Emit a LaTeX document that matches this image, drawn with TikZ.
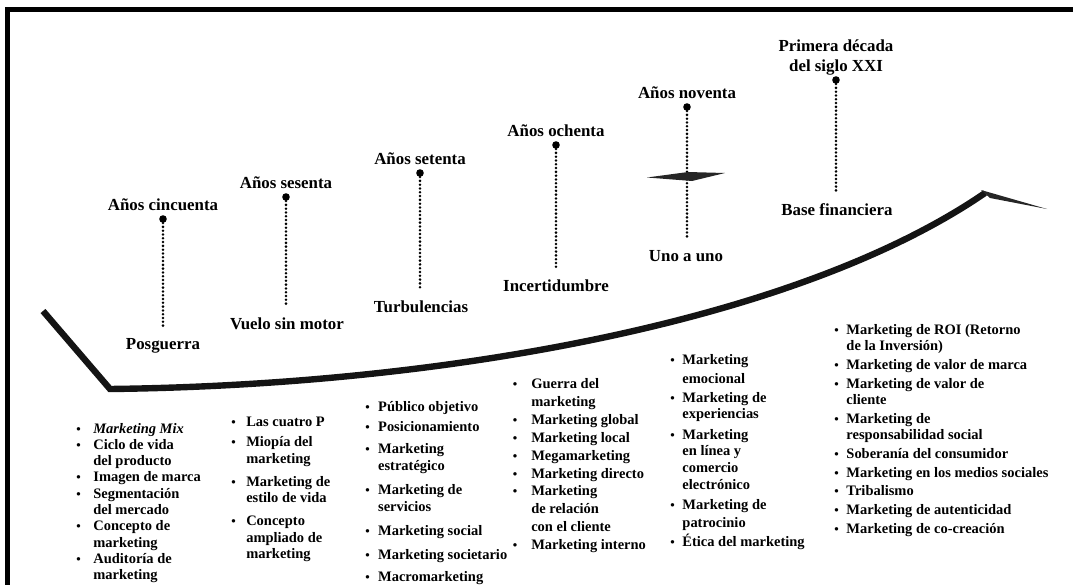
\documentclass[tikz,border=0pt]{standalone}
\usepackage{fontspec}
\setmainfont{Liberation Serif}
\usetikzlibrary{positioning}
\newcommand{\blt}{{\small\textbullet}}

\begin{document}
\begin{tikzpicture}[
  x=0.025cm, y=-0.025cm,
  font=\bfseries,
  era/.style={font=\fontsize{12}{14}\selectfont\bfseries, inner sep=0pt,
              align=center, text depth=0pt},
  phase/.style={font=\fontsize{12}{14}\selectfont\bfseries, inner sep=0pt,
                anchor=base},
  milestone/.style={circle, fill=black, inner sep=0pt, minimum size=0.19cm},
  dotline/.style={line width=2pt, line cap=round,
                  dash pattern=on 0pt off 2.7pt, shorten >=7pt},
  itemlist/.style={font=\fontsize{10.3}{11.6}\selectfont\bfseries,
                   inner sep=0pt, anchor=base west},
  swoosh/.style={draw=black!92, line width=0.16cm, line join=miter},
  frameline/.style={line width=0.125cm, line join=miter}
]
\useasboundingbox (0,0) rectangle (1073,585);

% ---------------- Frame ----------------
\draw[frameline] (7.5,585) -- (7.5,9.5) -- (1073,9.5);

% ---------------- Curve ----------------
\coordinate (sw0) at (43,311);
\coordinate (sw1) at (110,389);
\coordinate (sw2) at (985,193);
\coordinate (sw3) at (1047,209);
\draw[swoosh] (sw0) -- (sw1) .. controls (450,385) and (800,320) .. (sw2);
\fill[black!85] (981,190) -- (sw3) -- (990,198) -- cycle;

% ---------------- Milestones ----------------
\node[milestone] (d50) at (163,219) {};
\node[milestone] (d60) at (286,197) {};
\node[milestone] (d70) at (420,173) {};
\node[milestone] (d80) at (556,145) {};
\node[milestone] (d90) at (687,107) {};
\node[milestone] (d00) at (836,80)  {};

\node[era, above=3pt of d50] (e50) {Años cincuenta};
\node[era, above=3pt of d60] (e60) {Años sesenta};
\node[era, above=3pt of d70] (e70) {Años setenta};
\node[era, above=3pt of d80] (e80) {Años ochenta};
\node[era, above=3pt of d90] (e90) {Años noventa};
\node[era, above=3pt of d00] (e00) {Primera década\\del siglo XXI};

\node[phase] (p50) at (163,349) {Posguerra};
\node[phase] (p60) at (287,329) {Vuelo sin motor};
\node[phase] (p70) at (421,312) {Turbulencias};
\node[phase] (p80) at (556,291) {Incertidumbre};
\node[phase] (p90) at (686,261) {Uno a uno};
\node[phase] (p00) at (837,215) {Base financiera};

\draw[dotline] (d50.south) -- (d50.south |- p50.north);
\draw[dotline] (d60.south) -- (d60.south |- p60.north);
\draw[dotline] (d70.south) -- (d70.south |- p70.north);
\draw[dotline] (d80.south) -- (d80.south |- p80.north);
\draw[dotline] (d90.south) -- (d90.south |- p90.north);
\draw[dotline] (d00.south) -- (d00.south |- p00.north);

% crossing mark on the nineties line
\fill[black!85] (647,177.5) -- (688,172) -- (725,173) -- (692,181) -- cycle;

% ---------------- Lists ----------------
\node[itemlist] (l50) at (76,433) {\begin{tabular}[t]{@{}l@{\hspace{9pt}}l@{}}
  \blt & \textit{Marketing Mix}\\
  \blt & Ciclo de vida\\
       & del producto\\
  \blt & Imagen de marca\\
  \blt & Segmentación\\
       & del mercado\\
  \blt & Concepto de\\
       & marketing\\
  \blt & Auditoría de\\
       & marketing
\end{tabular}};

\node[itemlist] (l60) at (231,426) {\begin{tabular}[t]{@{}l@{\hspace{7.5pt}}l@{}}
  \blt & Las cuatro P\\[3.3pt]
  \blt & Miopía del\\
       & marketing\\[4.8pt]
  \blt & Marketing de\\
       & estilo de vida\\[4.8pt]
  \blt & Concepto\\
       & ampliado de\\
       & marketing
\end{tabular}};

\node[itemlist] (l70) at (365,411) {\begin{tabular}[t]{@{}l@{\hspace{6pt}}l@{}}
  \blt & Público objetivo\\[3.3pt]
  \blt & Posicionamiento\\[4pt]
  \blt & Marketing\\
       & estratégico\\[6pt]
  \blt & Marketing de\\
       & servicios\\[5.5pt]
  \blt & Marketing social\\[5.5pt]
  \blt & Marketing societario\\[4pt]
  \blt & Macromarketing
\end{tabular}};

\node[itemlist] (l80) at (512.5,388) {\begin{tabular}[t]{@{}l@{\hspace{10pt}}l@{}}
  \blt & Guerra del\\[1.2pt]
       & marketing\\[1.2pt]
  \blt & Marketing global\\[1.2pt]
  \blt & Marketing local\\[1.2pt]
  \blt & Megamarketing\\[1.2pt]
  \blt & Marketing directo\\[1.2pt]
  \blt & Marketing\\[1.2pt]
       & de relación\\[1.2pt]
       & con el cliente\\[1.2pt]
  \blt & Marketing interno
\end{tabular}};

\node[itemlist] (l90) at (670,364) {\begin{tabular}[t]{@{}l@{\hspace{5.5pt}}l@{}}
  \blt & Marketing\\[2pt]
       & emocional\\[2pt]
  \blt & Marketing de\\
       & experiencias\\[3.3pt]
  \blt & Marketing\\
       & en línea y\\
       & comercio\\[1pt]
       & electrónico\\[2.6pt]
  \blt & Marketing de\\[1.2pt]
       & patrocinio\\[1.2pt]
  \blt & Ética del marketing
\end{tabular}};

\node[itemlist] (l00) at (834,334) {\begin{tabular}[t]{@{}l@{\hspace{5.5pt}}l@{}}
  \blt & Marketing de ROI (Retorno\\
       & de la Inversión)\\[1.8pt]
  \blt & Marketing de valor de marca\\[1.8pt]
  \blt & Marketing de valor de\\
       & cliente\\[1.8pt]
  \blt & Marketing de\\
       & responsabilidad social\\[1.8pt]
  \blt & Soberanía del consumidor\\[1.8pt]
  \blt & Marketing en los medios sociales\\[1.8pt]
  \blt & Tribalismo\\[1.8pt]
  \blt & Marketing de autenticidad\\[1.8pt]
  \blt & Marketing de co-creación
\end{tabular}};

\end{tikzpicture}
\end{document}
